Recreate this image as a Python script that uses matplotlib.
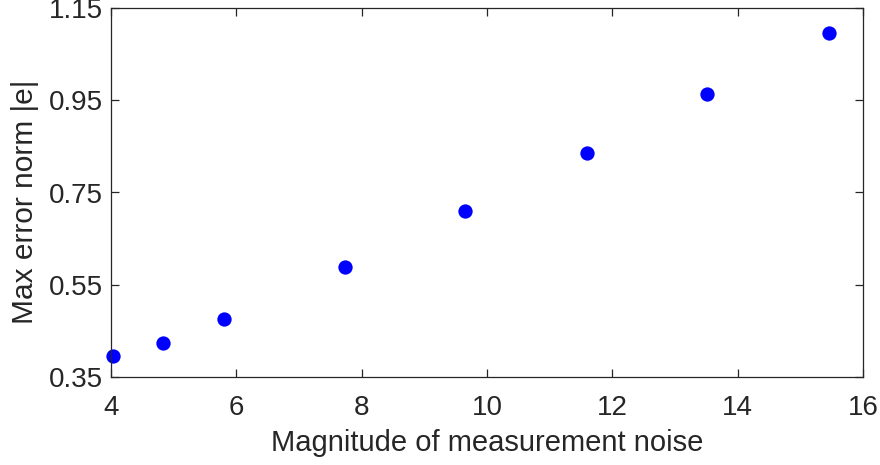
import matplotlib
matplotlib.use("Agg")
import matplotlib.pyplot as plt

noise = [4.03, 4.835, 5.80, 7.73, 9.65, 11.60, 13.515, 15.457]
err = [0.396, 0.424, 0.475, 0.589, 0.710, 0.836, 0.963, 1.095]
xticks = [4, 6, 8, 10, 12, 14, 16]
yticks = [0.35, 0.55, 0.75, 0.95, 1.15]

plt.rcParams['font.family'] = ['Liberation Sans', 'DejaVu Sans']
fig = plt.figure(figsize=(8.8, 4.65), dpi=100)
ax = fig.add_axes([111/880, 1-377/465, 752/880, 369/465])
ax.plot(noise, err, 'o', color='#0000ff', markersize=10.3, markeredgewidth=0, clip_on=False)
ax.set_xlim(4, 16)
ax.set_ylim(0.35, 1.15)
ax.set_xticks(xticks)
ax.set_xticklabels([str(v) for v in xticks])
ax.set_yticks(yticks)
ax.set_yticklabels([f"{v:.2f}" for v in yticks])
c = '#262626'
for s in ax.spines.values():
    s.set_color(c)
    s.set_linewidth(0.9)
ax.tick_params(direction='in', length=5.5, width=0.9, colors=c, labelsize=20,
               top=True, right=True)
ax.tick_params(axis='x', pad=13)
ax.tick_params(axis='y', pad=6)
ax.set_xlabel('Magnitude of measurement noise', fontsize=21, color=c, labelpad=6)
ax.set_ylabel('Max error norm |e|', fontsize=21.5, color=c)
ax.yaxis.set_label_coords(-0.096, 0.475)
fig.savefig('out.png', dpi=100)
